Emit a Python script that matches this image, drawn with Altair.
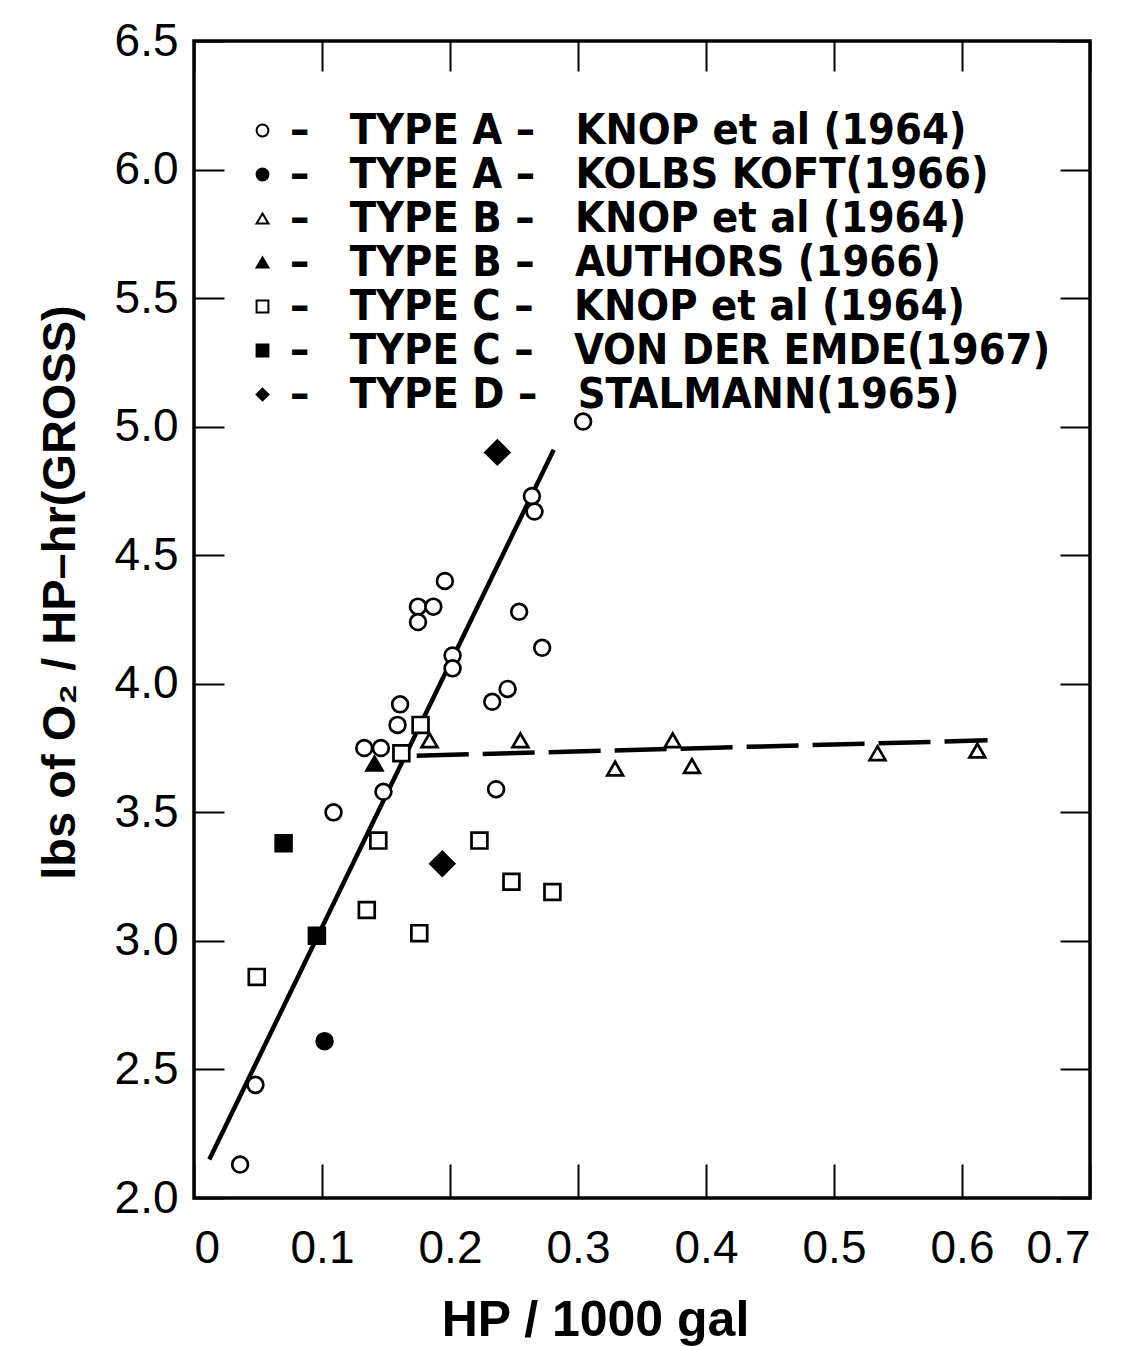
import altair as alt
import pandas as pd

# ---------------- data ----------------
NB = "\u00a0"
series_names = [
    f"\u2013{NB*3}TYPE{NB}A{NB}\u2013{NB*3}KNOP et al (1964)",
    f"\u2013{NB*3}TYPE{NB}A{NB}\u2013{NB*3}KOLBS KOFT(1966)",
    f"\u2013{NB*3}TYPE{NB}B{NB}\u2013{NB*3}KNOP et al (1964)",
    f"\u2013{NB*3}TYPE{NB}B{NB}\u2013{NB*3}AUTHORS (1966)",
    f"\u2013{NB*3}TYPE{NB}C{NB}\u2013{NB*3}KNOP et al (1964)",
    f"\u2013{NB*3}TYPE{NB}C{NB}\u2013{NB*3}VON DER EMDE(1967)",
    f"\u2013{NB*3}TYPE{NB}D{NB}\u2013{NB*3}STALMANN(1965)",
]
series_shapes = ["circle", "circle", "triangle-up", "triangle-up", "square", "square", "diamond"]
series_fills = ["white", "black", "white", "black", "white", "black", "black"]
series_strokes = ["black"] * 7

typeA_knop_x = [0.036, 0.048, 0.109, 0.133, 0.146, 0.148, 0.161, 0.159, 0.175, 0.187, 0.175,
                0.196, 0.202, 0.202, 0.233, 0.245, 0.236, 0.254, 0.272, 0.264, 0.266, 0.304]
typeA_knop_y = [2.13, 2.44, 3.50, 3.75, 3.75, 3.58, 3.92, 3.84, 4.30, 4.30, 4.24,
                4.40, 4.11, 4.06, 3.93, 3.98, 3.59, 4.28, 4.14, 4.73, 4.67, 5.02]
typeA_kolbs_x = [0.102]
typeA_kolbs_y = [2.61]
typeB_knop_x = [0.184, 0.255, 0.329, 0.374, 0.389, 0.534, 0.612]
typeB_knop_y = [3.78, 3.78, 3.67, 3.78, 3.68, 3.73, 3.74]
typeB_authors_x = [0.141]
typeB_authors_y = [3.69]
typeC_knop_x = [0.177, 0.162, 0.144, 0.223, 0.248, 0.280, 0.135, 0.176, 0.049]
typeC_knop_y = [3.84, 3.73, 3.39, 3.39, 3.23, 3.19, 3.12, 3.03, 2.86]
typeC_emde_x = [0.070, 0.096]
typeC_emde_y = [3.38, 3.02]
typeD_stal_x = [0.237, 0.194]
typeD_stal_y = [4.90, 3.30]

solid_line_x = [0.012, 0.281]
solid_line_y = [2.15, 4.91]
dashed_line_x = [0.174, 0.620]
dashed_line_y = [3.72, 3.78]

x_ticks = [0, 0.1, 0.2, 0.3, 0.4, 0.5, 0.6, 0.7]
y_ticks = [2.0, 2.5, 3.0, 3.5, 4.0, 4.5, 5.0, 5.5, 6.0, 6.5]

# ---------------- tables ----------------
all_x = [typeA_knop_x, typeA_kolbs_x, typeB_knop_x, typeB_authors_x,
         typeC_knop_x, typeC_emde_x, typeD_stal_x]
all_y = [typeA_knop_y, typeA_kolbs_y, typeB_knop_y, typeB_authors_y,
         typeC_knop_y, typeC_emde_y, typeD_stal_y]
rows = []
for name, xs, ys in zip(series_names, all_x, all_y):
    for xv, yv in zip(xs, ys):
        rows.append({"x": xv, "y": yv, "series": name})
points = pd.DataFrame(rows)

lines = pd.DataFrame({
    "x": solid_line_x + dashed_line_x,
    "y": solid_line_y + dashed_line_y,
    "line": ["solid"] * 2 + ["dashed"] * 2,
})

LABEL_FONT = "Liberation Sans, Arial, sans-serif"
LEGEND_FONT = "Liberation Sans Narrow, DejaVu Sans Condensed, DejaVu Sans, sans-serif"

x_scale = alt.Scale(domain=[0, 0.7], nice=False, zero=False)
y_scale = alt.Scale(domain=[2.0, 6.5], nice=False, zero=False)

legend = alt.Legend(
    orient="none", legendX=47, legendY=68,
    labelFont=LEGEND_FONT, labelFontSize=43, labelFontWeight="bold", labelColor="black",
    labelLimit=2000, labelOffset=6, symbolSize=140, symbolStrokeWidth=2,
    rowPadding=-1,
)

pts = alt.Chart(points).mark_point(
    filled=True, strokeWidth=2.7, opacity=1
).encode(
    x=alt.X("x:Q", scale=x_scale, axis=alt.Axis(
        orient="bottom", values=x_ticks,
        labelExpr="datum.value == 0 ? '0' : format(datum.value, '.1f')",
        tickSize=34, offset=-34, domain=False, grid=False, labelPadding=28,
        labelFontSize=46, labelFont=LABEL_FONT,
        title="HP / 1000 gal", titleFontSize=50, titleFontWeight="bold",
        titleFont=LABEL_FONT, titleX=401, titleY=156, titleBaseline="middle")),
    y=alt.Y("y:Q", scale=y_scale, axis=alt.Axis(
        orient="left", values=y_ticks, format=".1f",
        tickSize=30, offset=-30, domain=False, grid=False, labelPadding=16,
        labelFontSize=46, labelFont=LABEL_FONT,
        title="lbs of O\u2082 / HP\u2013hr(GROSS)", titleFontSize=47,
        titleFontWeight="bold", titleFont=LABEL_FONT,
        titleX=-164, titleY=551, titleBaseline="middle")),
    shape=alt.Shape("series:N", title="", scale=alt.Scale(domain=series_names, range=series_shapes),
                    legend=legend),
    fill=alt.Fill("series:N", title="", scale=alt.Scale(domain=series_names, range=series_fills),
                  legend=legend),
    stroke=alt.Stroke("series:N", title="", scale=alt.Scale(domain=series_names, range=series_strokes),
                      legend=legend),
    size=alt.condition("test(/STALMANN/, datum.series)",
                       alt.value(560), alt.value(250)),
)

lns = alt.Chart(lines).mark_line(color="black", strokeWidth=4.5).encode(
    x=alt.X("x:Q", scale=x_scale, axis=alt.Axis(
        orient="top", values=x_ticks, labels=False, tickSize=30, offset=-30,
        domain=False, grid=False, title="")),
    y=alt.Y("y:Q", scale=y_scale, axis=alt.Axis(
        orient="right", values=y_ticks, labels=False, tickSize=30, offset=-30,
        domain=False, grid=False, title="")),
    detail="line:N",
    strokeDash=alt.StrokeDash("line:N", scale=alt.Scale(
        domain=["solid", "dashed"], range=[[1, 0], [52, 14]]), legend=None),
)

chart = alt.layer(lns, pts).resolve_axis(
    x="independent", y="independent"
).properties(
    width=896, height=1157,
    padding={"left": 194, "top": 41, "right": 31, "bottom": 148},
    autosize=alt.AutoSizeParams(type="none"),
    background="white",
).configure_view(
    stroke="black", strokeWidth=3.5
).configure_axis(
    tickColor="black", tickWidth=2, labelColor="black", titleColor="black"
)

chart.save("out.html", embed_options={"renderer": "svg", "actions": False})
